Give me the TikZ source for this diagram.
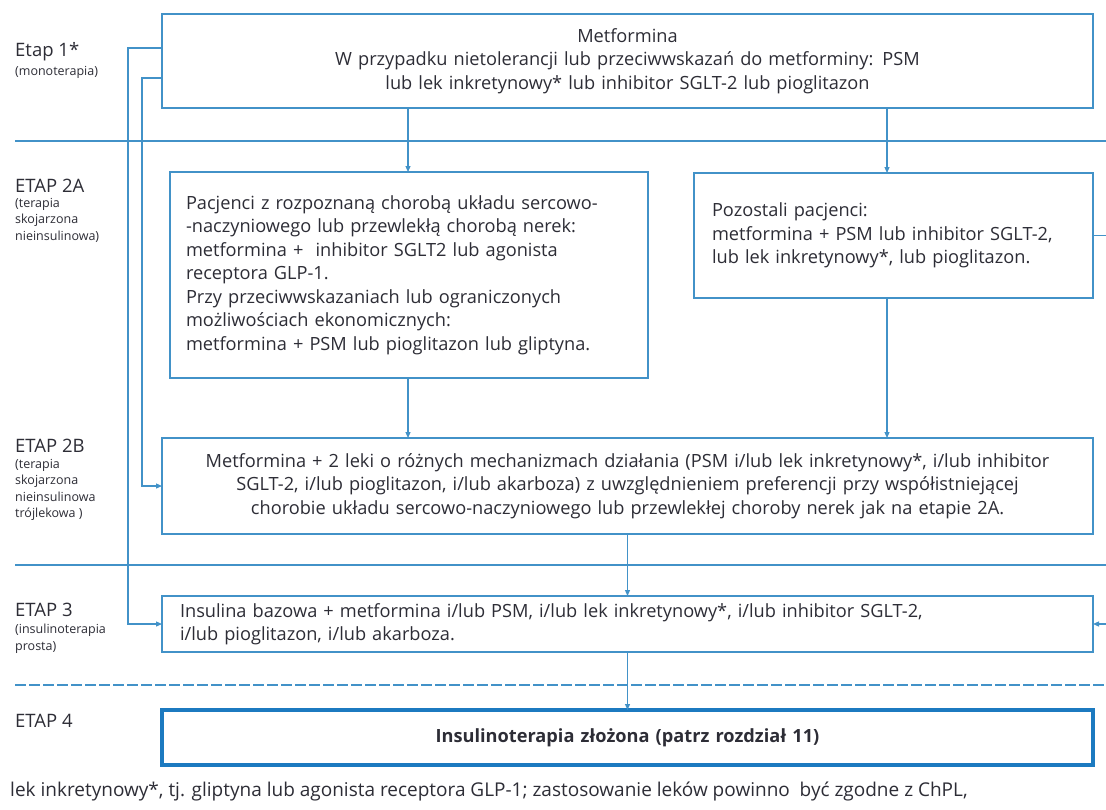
\documentclass[tikz,border=0pt]{standalone}
\usepackage{fontspec}
\setmainfont{Open Sans}
\usetikzlibrary{arrows.meta}
\definecolor{bl}{RGB}{66,146,200}
\definecolor{bldark}{RGB}{28,122,192}
\definecolor{tx}{RGB}{45,45,54}
\begin{document}
\begin{tikzpicture}[x=1pt,y=-1pt,
 box/.style={draw=bl, line width=1.6pt, anchor=north west, outer sep=0pt, inner sep=0pt, text=tx, font=\fontsize{18.2}{23.5}\selectfont},
 arr/.style={draw=bl, line width=1.2pt, -{Triangle[length=6pt,width=5pt]}},
 sepline/.style={draw=bl, line width=1.5pt},
 stage/.style={anchor=west, inner sep=0pt, text=tx, font=\fontsize{18.5}{20}\selectfont},
 sub/.style={anchor=north west, inner sep=0pt, text=tx, font=\fontsize{12.5}{16.5}\selectfont, align=left},
]
\useasboundingbox (0,0) rectangle (1106,809);
\fill[white] (0,0) rectangle (1106,809);

% separators
\draw[sepline] (15,141) -- (1106,141);
\draw[sepline] (15,565) -- (1106,565);
\draw[sepline, line width=2.2pt, dash pattern=on 11pt off 3pt] (15,685) -- (1106,685);

% stage labels
\node[stage] (s1) at (15,52) {Etap 1*};
\node[sub] (s1s) at (15,66) {(monoterapia)};
\node[stage] (s2a) at (15,186) {ETAP 2A};
\node[sub] (s2as) at (15,198) {(terapia\\skojarzona\\nieinsulinowa)};
\node[stage] (s2b) at (15,446) {ETAP 2B};
\node[sub] (s2bs) at (15,459) {(terapia\\skojarzona\\nieinsulinowa\\trójlekowa )};
\node[stage] (s3) at (15,610) {ETAP 3};
\node[sub] (s3s) at (15,624) {(insulinoterapia\\prosta)};
\node[stage] (s4) at (15,721) {ETAP 4};

% boxes
\node[box, minimum width=931pt, minimum height=94pt, text width=931pt, align=center] (m1) at (162,14)
 {Metformina\\W przypadku nietolerancji lub przeciwwskazań do metforminy: PSM\\lub lek inkretynowy* lub inhibitor SGLT-2 lub pioglitazon};
\node[box, minimum width=478pt, minimum height=206pt, inner xsep=16pt, text width=446pt, align=left] (pa) at (170,172)
 {Pacjenci z rozpoznaną chorobą układu sercowo-\\-naczyniowego lub przewlekłą chorobą nerek:\\metformina +\ \ inhibitor SGLT2 lub agonista\\receptora GLP-1.\\Przy przeciwwskazaniach lub ograniczonych\\możliwościach ekonomicznych:\\metformina + PSM lub pioglitazon lub gliptyna.};
\node[box, minimum width=399pt, minimum height=125pt, inner xsep=18pt, text width=363pt, align=left] (po) at (694,173)
 {Pozostali pacjenci:\\metformina + PSM lub inhibitor SGLT-2,\\lub lek inkretynowy*, lub pioglitazon.};
\node[box, minimum width=931pt, minimum height=96pt, text width=931pt, align=center] (bb) at (162,438)
 {Metformina + 2 leki o różnych mechanizmach działania (PSM i/lub lek inkretynowy*, i/lub inhibitor\\SGLT-2, i/lub pioglitazon, i/lub akarboza) z uwzględnieniem preferencji przy współistniejącej\\chorobie układu sercowo-naczyniowego lub przewlekłej choroby nerek jak na etapie 2A.};
\node[box, minimum width=931pt, minimum height=56pt, inner xsep=18pt, text width=895pt, align=left] (ins) at (162,596)
 {Insulina bazowa + metformina i/lub PSM, i/lub lek inkretynowy*, i/lub inhibitor SGLT-2,\\i/lub pioglitazon, i/lub akarboza.};
\node[box, draw=bldark, line width=4.5pt, minimum width=931pt, minimum height=55pt, text width=931pt, align=center, font=\fontsize{18.2}{22}\selectfont\bfseries] (e4) at (162,710)
 {Insulinoterapia złożona (patrz rozdział 11)};

% footnote
\node[anchor=west, inner sep=0pt, text=tx, font=\fontsize{19}{22}\selectfont] (fn) at (10,791)
 {lek inkretynowy*, tj. gliptyna lub agonista receptora GLP-1; zastosowanie leków powinno\ \ być zgodne z ChPL,};

% connectors
\coordinate (xl) at (408,0);
\coordinate (xr) at (887,0);
\coordinate (la) at (128,48);
\coordinate (lb) at (142,78);
\coordinate (rr) at (1114,0);
\draw[arr] (m1.south -| xl) -- (pa.north -| xl);
\draw[arr] (m1.south -| xr) -- (po.north -| xr);
\draw[arr] (pa.south -| xl) -- (bb.north -| xl);
\draw[arr] (po.south -| xr) -- (bb.north -| xr);
\draw[arr] (bb.south) -- (ins.north);
\draw[arr] (ins.south) -- (e4.north);
\draw[arr] (m1.west |- la) -- (la) |- (ins.west);
\draw[arr] (m1.west |- lb) -- (lb) |- (bb.west);
\draw[arr] (po.east) -- (po.east -| rr) |- (ins.east);
\end{tikzpicture}
\end{document}
